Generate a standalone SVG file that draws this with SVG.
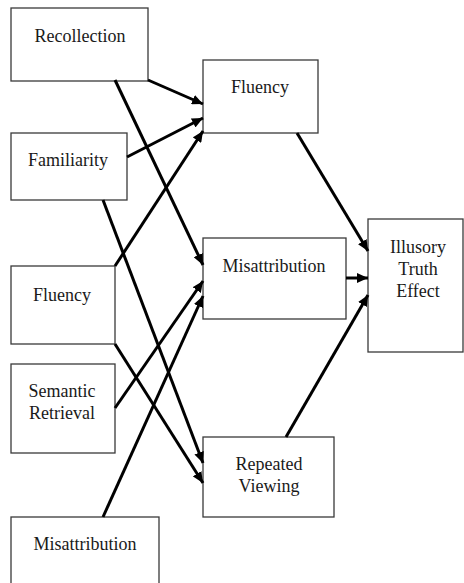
<svg xmlns="http://www.w3.org/2000/svg" width="464" height="583" viewBox="0 0 464 583">
<defs>
<marker id="ah" markerUnits="userSpaceOnUse" markerWidth="12" markerHeight="10" refX="11" refY="5" orient="auto">
<path d="M0,0 L11,5 L0,10 Z" fill="#000"/>
</marker>
<style>
.box{fill:#fff;stroke:#3a3a3a;stroke-width:1.3}
.t{font-family:'Liberation Serif',serif;font-size:18px;fill:#1a1a1a;text-anchor:middle}
.c{stroke:#000;stroke-width:3;fill:none;marker-end:url(#ah)}
</style>
</defs>
<rect width="464" height="583" fill="#fff"/>
<g id="n-recollection"><rect class="box" x="11" y="8" width="137" height="73"/><text class="t" x="80" y="42">Recollection</text></g>
<g id="n-familiarity"><rect class="box" x="11" y="133" width="116" height="67"/><text class="t" x="68" y="166">Familiarity</text></g>
<g id="n-fluency-left"><rect class="box" x="11" y="266" width="104" height="78"/><text class="t" x="62" y="301">Fluency</text></g>
<g id="n-semantic"><rect class="box" x="11" y="364" width="104" height="89"/><text class="t" x="62" y="397">Semantic</text><text class="t" x="62" y="419">Retrieval</text></g>
<g id="n-misattribution-left"><rect class="box" x="11" y="517" width="148" height="70"/><text class="t" x="85" y="550">Misattribution</text></g>
<g id="n-fluency-mid"><rect class="box" x="203" y="60" width="115" height="73"/><text class="t" x="260" y="93">Fluency</text></g>
<g id="n-misattribution-mid"><rect class="box" x="203" y="238" width="143" height="81"/><text class="t" x="274" y="272">Misattribution</text></g>
<g id="n-repeated"><rect class="box" x="203" y="437" width="131" height="80"/><text class="t" x="269" y="470">Repeated</text><text class="t" x="269" y="492">Viewing</text></g>
<g id="n-illusory"><rect class="box" x="368" y="219" width="95" height="133"/><text class="t" x="418" y="253">Illusory</text><text class="t" x="418" y="275">Truth</text><text class="t" x="418" y="297">Effect</text></g>
<g id="connectors">
<line class="c" x1="148" y1="80" x2="203" y2="104"/>
<line class="c" x1="127" y1="157" x2="203" y2="118"/>
<line class="c" x1="115" y1="266" x2="203" y2="131"/>
<line class="c" x1="115" y1="80" x2="203" y2="265"/>
<line class="c" x1="103" y1="200" x2="203" y2="463"/>
<line class="c" x1="115" y1="344" x2="203" y2="483"/>
<line class="c" x1="115" y1="408" x2="203" y2="281"/>
<line class="c" x1="103" y1="517" x2="203" y2="296"/>
<line class="c" x1="297" y1="133" x2="368" y2="251"/>
<line class="c" x1="346" y1="278" x2="368" y2="278"/>
<line class="c" x1="286" y1="437" x2="368" y2="295"/>
</g>
</svg>
